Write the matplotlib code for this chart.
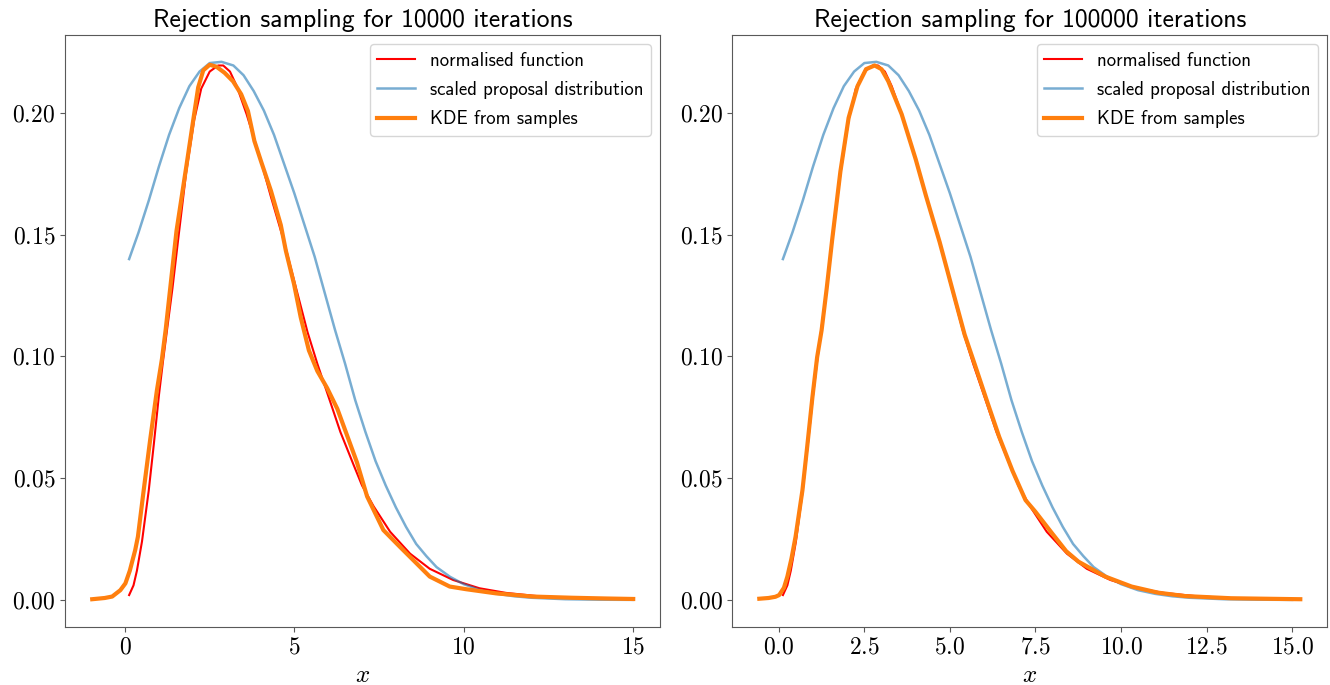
import matplotlib
matplotlib.use("Agg")
import matplotlib.pyplot as plt
from matplotlib.ticker import FuncFormatter

plt.rcParams['mathtext.fontset'] = 'cm'
plt.rcParams['font.family'] = ['cmss10', 'DejaVu Sans']
plt.rcParams['axes.unicode_minus'] = False

# normalised target function (same in both panels)
func_x = [0.12, 0.25, 0.35, 0.5, 0.7, 0.85, 1.0, 1.12, 1.25, 1.4, 1.56, 1.8, 2.04, 2.25,
          2.5, 2.75, 2.9, 3.1, 3.3, 3.59, 4.0, 4.3, 4.7, 5.09, 5.39, 5.68, 6.07, 6.36,
          6.75, 7.0, 7.34, 7.83, 8.42, 9.0, 9.69, 10.47, 11.25, 12.23, 13.2, 14.2, 15.0]
func_y = [0.002, 0.006, 0.012, 0.024, 0.045, 0.064, 0.084, 0.098, 0.112, 0.128, 0.147,
          0.175, 0.197, 0.210, 0.217, 0.2195, 0.2195, 0.217, 0.211, 0.1995, 0.181, 0.166,
          0.147, 0.126, 0.110, 0.097, 0.081, 0.069, 0.0555, 0.047, 0.0385, 0.028, 0.019,
          0.0128, 0.0082, 0.0048, 0.0029, 0.0015, 0.0008, 0.0005, 0.0003]

# scaled proposal distribution
prop_x = [0.12, 0.4, 0.7, 1.0, 1.3, 1.6, 1.9, 2.2, 2.5, 2.85, 3.2, 3.5, 3.8, 4.1, 4.4,
          4.7, 5.0, 5.3, 5.6, 5.9, 6.2, 6.5, 6.8, 7.1, 7.4, 7.7, 8.0, 8.3, 8.6, 8.9, 9.2,
          9.6, 10.0, 10.5, 11.0, 11.5, 12.0, 13.0, 14.0, 15.0]
prop_y = [0.140, 0.151, 0.164, 0.178, 0.191, 0.202, 0.211, 0.217, 0.2205, 0.221, 0.2195,
          0.2155, 0.209, 0.201, 0.191, 0.179, 0.167, 0.154, 0.141, 0.126, 0.111, 0.097,
          0.082, 0.069, 0.057, 0.047, 0.038, 0.030, 0.023, 0.018, 0.0135, 0.0095, 0.0065,
          0.004, 0.0025, 0.0015, 0.0009, 0.0003, 0.0001, 0.00003]

# KDE of accepted samples, 10000 iterations
kde1_x = [-0.97, -0.6, -0.38, -0.14, 0.01, 0.14, 0.30, 0.38, 0.55, 0.74, 0.94, 1.09, 1.2,
          1.52, 1.82, 2.01, 2.16, 2.31, 2.50, 2.70, 2.94, 3.19, 3.43, 3.63, 3.82, 4.02,
          4.31, 4.60, 4.75, 4.99, 5.19, 5.43, 5.68, 5.97, 6.27, 6.56, 6.85, 7.15, 7.63,
          8.12, 8.51, 9.0, 9.59, 10.08, 10.96, 12.03, 13.2, 14.2, 15.01]
kde1_y = [0.0003, 0.0008, 0.0014, 0.004, 0.0068, 0.012, 0.0205, 0.026, 0.045, 0.0656,
          0.086, 0.099, 0.111, 0.1516, 0.179, 0.1967, 0.2105, 0.2175, 0.2198, 0.219, 0.2165,
          0.213, 0.2077, 0.2008, 0.1885, 0.180, 0.168, 0.154, 0.1434, 0.1298, 0.116,
          0.1025, 0.094, 0.087, 0.0785, 0.0675, 0.0565, 0.0425, 0.0287, 0.0218, 0.0164,
          0.0096, 0.0055, 0.0044, 0.0027, 0.0014, 0.0009, 0.0006, 0.0004]

# KDE of accepted samples, 100000 iterations
kde2_x = [-0.57, -0.3, -0.1, 0.01, 0.15, 0.25, 0.37, 0.49, 0.69, 0.83, 0.98, 1.12, 1.25,
          1.4, 1.56, 1.8, 2.04, 2.3, 2.55, 2.8, 3.0, 3.2, 3.59, 4.0, 4.3, 4.7, 5.16, 5.43,
          5.72, 6.1, 6.44, 6.83, 7.21, 7.5, 7.99, 8.4, 8.76, 9.54, 10.31, 11.08, 11.86,
          13.21, 14.2, 15.24]
kde2_y = [0.0005, 0.0008, 0.0013, 0.002, 0.005, 0.0096, 0.017, 0.026, 0.045, 0.063, 0.083,
          0.0997, 0.1107, 0.128, 0.148, 0.176, 0.198, 0.211, 0.218, 0.2195, 0.218, 0.213,
          0.1995, 0.181, 0.166, 0.147, 0.123, 0.109, 0.097, 0.081, 0.067, 0.053, 0.041,
          0.0362, 0.0273, 0.020, 0.0157, 0.0096, 0.0055, 0.003, 0.0016, 0.0007, 0.0005,
          0.0003]

iterations = [10000, 100000]
kdes = [(kde1_x, kde1_y), (kde2_x, kde2_y)]
xticks = [[0, 5, 10, 15], [0, 2.5, 5, 7.5, 10, 12.5, 15]]
xfmt = ['${:.0f}$', '${:.1f}$']

fig, axes = plt.subplots(1, 2, figsize=(13.3, 6.85), dpi=100)
fig.subplots_adjust(left=0.049, right=0.998, top=0.949, bottom=0.085, wspace=0.121)

for i, ax in enumerate(axes):
    ax.plot(func_x, func_y, color='red', lw=1.5, label='normalised function')
    ax.plot(prop_x, prop_y, color='tab:blue', alpha=0.6, lw=1.8, label='scaled proposal distribution')
    ax.plot(kdes[i][0], kdes[i][1], color='tab:orange', lw=3, label='KDE from samples')
    ax.set_title('Rejection sampling for %d iterations' % iterations[i], fontsize=18.5)
    ax.set_xlabel('$x$', fontsize=18)
    ax.set_xticks(xticks[i])
    f = xfmt[i]
    ax.xaxis.set_major_formatter(FuncFormatter(lambda v, p, f=f: f.format(v)))
    ax.set_yticks([0, 0.05, 0.10, 0.15, 0.20])
    ax.yaxis.set_major_formatter(FuncFormatter(lambda v, p: '${:.2f}$'.format(v)))
    ax.tick_params(labelsize=17, color='0.35')
    for s in ax.spines.values():
        s.set_color('0.35')
    ax.legend(loc='upper right', fontsize=13.5, labelspacing=0.6)

plt.savefig('out.png')
